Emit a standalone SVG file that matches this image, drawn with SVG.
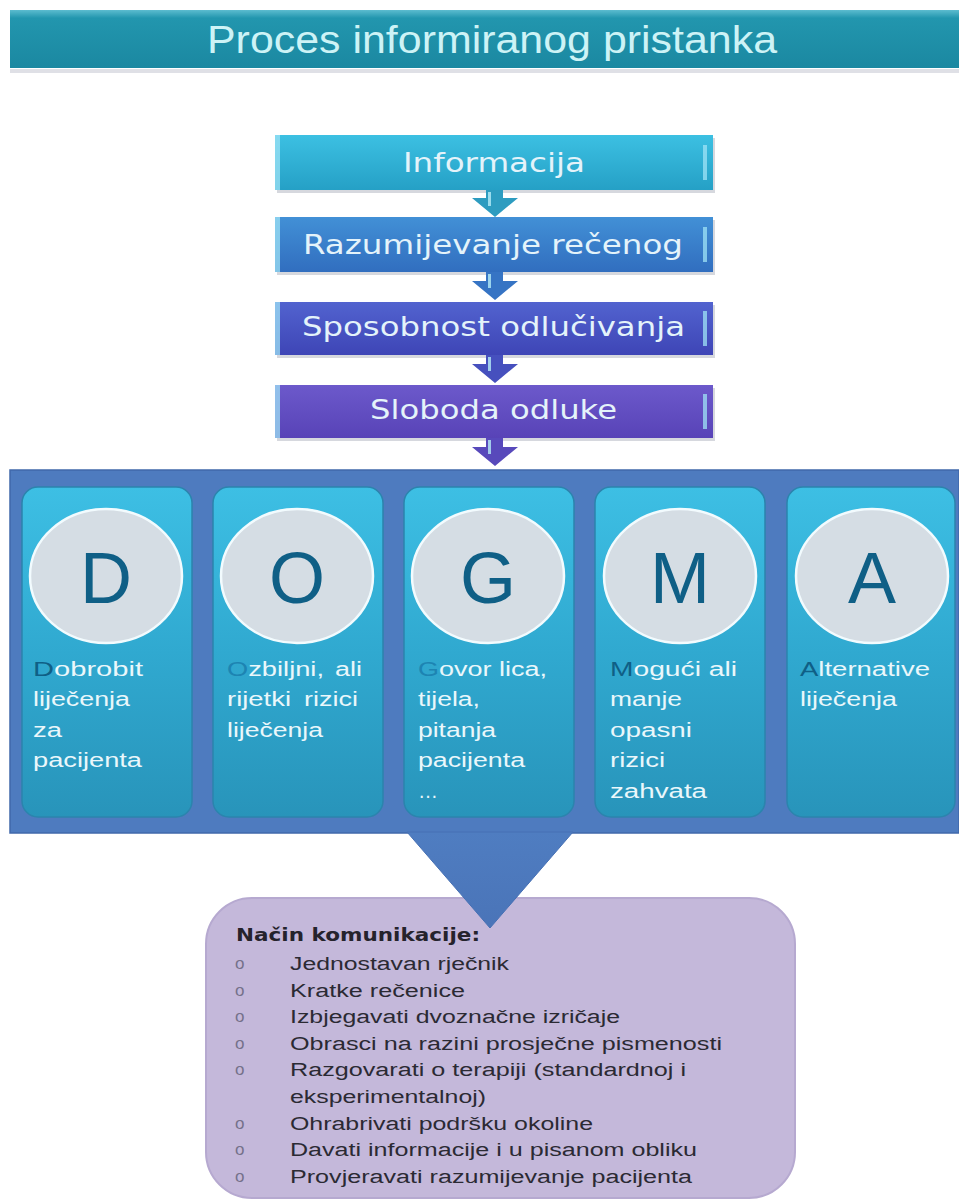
<svg xmlns="http://www.w3.org/2000/svg" width="959" height="1202" viewBox="0 0 959 1202">
<defs>
  <linearGradient id="gTitle" x1="0" y1="0" x2="0" y2="1">
    <stop offset="0" stop-color="#5cbccf"/><stop offset="0.14" stop-color="#2296ae"/><stop offset="1" stop-color="#1b88a1"/>
  </linearGradient>
  <linearGradient id="gB1" x1="0" y1="0" x2="0" y2="1"><stop offset="0" stop-color="#3cc0e2"/><stop offset="1" stop-color="#25a0c6"/></linearGradient>
  <linearGradient id="gB2" x1="0" y1="0" x2="0" y2="1"><stop offset="0" stop-color="#4290d6"/><stop offset="1" stop-color="#316ebf"/></linearGradient>
  <linearGradient id="gB3" x1="0" y1="0" x2="0" y2="1"><stop offset="0" stop-color="#5263cf"/><stop offset="1" stop-color="#3e45b6"/></linearGradient>
  <linearGradient id="gB4" x1="0" y1="0" x2="0" y2="1"><stop offset="0" stop-color="#6c59cb"/><stop offset="1" stop-color="#5843b7"/></linearGradient>
  <linearGradient id="gCard" x1="0" y1="0" x2="0" y2="1"><stop offset="0" stop-color="#3dbfe4"/><stop offset="0.5" stop-color="#30a9d0"/><stop offset="1" stop-color="#2894ba"/></linearGradient>
  <linearGradient id="gTri" x1="0" y1="0" x2="0" y2="1"><stop offset="0" stop-color="#4f7dc1"/><stop offset="1" stop-color="#4a74b8"/></linearGradient>
</defs>
<style>
  .boxtxt{font-family:"DejaVu Sans",Verdana,sans-serif;font-size:26px;fill:#e4f3fa}
  .edge{fill:#9fe3f5;opacity:0.75}
  .shadow{fill:#8a8fa0;opacity:0.35}
  .card{fill:url(#gCard);stroke:#2b84ad;stroke-width:1.5}
  .circ{fill:#d5dde4;stroke:#f2fbfe;stroke-width:2.5}
  .letter{font-family:"Liberation Sans",Arial,sans-serif;font-size:72px;fill:#0f5f86;text-anchor:middle}
  .ctxt{font-family:"Liberation Sans",Arial,sans-serif;font-size:20px;fill:#eaf7fb}
  .init{fill:#0f5f86}
  .init2{fill:#1d84b2}
  .li{font-family:"Liberation Sans",Arial,sans-serif;font-size:18px;fill:#2b2a33}
  .bul{font-family:"Liberation Sans",Arial,sans-serif;font-size:17px;fill:#75718a}
  .arr-stripe{fill:#b5ecf7;opacity:0.8}
</style>

<g id="title">
  <rect x="10" y="69" width="949" height="4" fill="#c9ccd6" opacity="0.6"/>
  <rect x="10" y="10" width="949" height="58" fill="url(#gTitle)"/>
  <text x="207" y="53" font-family="Liberation Sans, Arial, sans-serif" font-size="38" fill="#cdf3f6" textLength="570" lengthAdjust="spacingAndGlyphs">Proces informiranog pristanka</text>
</g>

<g id="box-informacija">
  <rect x="277" y="138" width="438" height="55" class="shadow"/>
  <rect x="275" y="135" width="438" height="55" fill="url(#gB1)"/>
  <rect x="275" y="135" width="5" height="55" class="edge"/>
  <rect x="703" y="145" width="4" height="35" class="edge"/>
  <text x="403" y="172" class="boxtxt" textLength="182" lengthAdjust="spacingAndGlyphs">Informacija</text>
</g>
<g id="box-razumijevanje">
  <rect x="277" y="220" width="438" height="55" class="shadow"/>
  <rect x="275" y="217" width="438" height="55" fill="url(#gB2)"/>
  <rect x="275" y="217" width="5" height="55" class="edge"/>
  <rect x="703" y="227" width="4" height="35" class="edge"/>
  <text x="303" y="254" class="boxtxt" textLength="380" lengthAdjust="spacingAndGlyphs">Razumijevanje rečenog</text>
</g>
<g id="box-sposobnost">
  <rect x="277" y="305" width="438" height="53" class="shadow"/>
  <rect x="275" y="302" width="438" height="53" fill="url(#gB3)"/>
  <rect x="275" y="302" width="5" height="53" class="edge"/>
  <rect x="703" y="311" width="4" height="35" class="edge"/>
  <text x="302" y="336" class="boxtxt" textLength="383" lengthAdjust="spacingAndGlyphs">Sposobnost odlučivanja</text>
</g>
<g id="box-sloboda">
  <rect x="277" y="388" width="438" height="53" class="shadow"/>
  <rect x="275" y="385" width="438" height="53" fill="url(#gB4)"/>
  <rect x="275" y="385" width="5" height="53" class="edge"/>
  <rect x="703" y="394" width="4" height="35" class="edge"/>
  <text x="370" y="419" class="boxtxt" textLength="247" lengthAdjust="spacingAndGlyphs">Sloboda odluke</text>
</g>

<g id="dogma-band">
  <rect x="10" y="470" width="949" height="363" fill="#4e7bbf" stroke="#4068ab" stroke-width="1.5"/>
</g>

<g id="card-d">
  <rect x="22" y="487" width="170" height="330" rx="16" class="card"/>
  <ellipse cx="106" cy="576" rx="76" ry="67" class="circ"/>
  <text x="106" y="603" class="letter">D</text>
  <text class="ctxt"><tspan x="33" y="676" textLength="110" lengthAdjust="spacingAndGlyphs"><tspan class="init">D</tspan>obrobit</tspan><tspan x="33" y="706" textLength="97" lengthAdjust="spacingAndGlyphs">liječenja</tspan><tspan x="33" y="737" textLength="29" lengthAdjust="spacingAndGlyphs">za</tspan><tspan x="33" y="767" textLength="109" lengthAdjust="spacingAndGlyphs">pacijenta</tspan></text>
</g>
<g id="card-o">
  <rect x="213" y="487" width="170" height="330" rx="16" class="card"/>
  <ellipse cx="297" cy="576" rx="76" ry="67" class="circ"/>
  <text x="297" y="603" class="letter">O</text>
  <text class="ctxt"><tspan x="227" y="676" textLength="97" lengthAdjust="spacingAndGlyphs"><tspan class="init2">O</tspan>zbiljni,</tspan><tspan x="335" y="676" textLength="27" lengthAdjust="spacingAndGlyphs">ali</tspan><tspan x="227" y="706" textLength="64" lengthAdjust="spacingAndGlyphs">rijetki</tspan><tspan x="304" y="706" textLength="54" lengthAdjust="spacingAndGlyphs">rizici</tspan><tspan x="227" y="737" textLength="96" lengthAdjust="spacingAndGlyphs">liječenja</tspan></text>
</g>
<g id="card-g">
  <rect x="404" y="487" width="170" height="330" rx="16" class="card"/>
  <ellipse cx="488" cy="576" rx="76" ry="67" class="circ"/>
  <text x="488" y="603" class="letter">G</text>
  <text class="ctxt"><tspan x="418" y="676" textLength="129" lengthAdjust="spacingAndGlyphs"><tspan class="init2">G</tspan>ovor lica,</tspan><tspan x="418" y="706" textLength="62" lengthAdjust="spacingAndGlyphs">tijela,</tspan><tspan x="418" y="737" textLength="78" lengthAdjust="spacingAndGlyphs">pitanja</tspan><tspan x="418" y="767" textLength="107" lengthAdjust="spacingAndGlyphs">pacijenta</tspan><tspan x="418" y="798">…</tspan></text>
</g>
<g id="card-m">
  <rect x="595" y="487" width="170" height="330" rx="16" class="card"/>
  <ellipse cx="680" cy="576" rx="76" ry="67" class="circ"/>
  <text x="680" y="603" class="letter">M</text>
  <text class="ctxt"><tspan x="610" y="676" textLength="127" lengthAdjust="spacingAndGlyphs"><tspan class="init">M</tspan>ogući ali</tspan><tspan x="610" y="706" textLength="72" lengthAdjust="spacingAndGlyphs">manje</tspan><tspan x="610" y="737" textLength="82" lengthAdjust="spacingAndGlyphs">opasni</tspan><tspan x="610" y="767" textLength="55" lengthAdjust="spacingAndGlyphs">rizici</tspan><tspan x="610" y="798" textLength="97" lengthAdjust="spacingAndGlyphs">zahvata</tspan></text>
</g>
<g id="card-a">
  <rect x="787" y="487" width="168" height="330" rx="16" class="card"/>
  <ellipse cx="872" cy="576" rx="76" ry="67" class="circ"/>
  <text x="872" y="603" class="letter">A</text>
  <text class="ctxt"><tspan x="800" y="676" textLength="130" lengthAdjust="spacingAndGlyphs"><tspan class="init">A</tspan>lternative</tspan><tspan x="800" y="706" textLength="97" lengthAdjust="spacingAndGlyphs">liječenja</tspan></text>
</g>

<g id="box-nacin-komunikacije">
  <rect x="206" y="898" width="589" height="300" rx="46" fill="#c4b8da" stroke="#b6a9d0" stroke-width="2"/>
  <text x="236" y="941" font-family="DejaVu Sans, Verdana, sans-serif" font-size="18" font-weight="bold" fill="#25232c" textLength="244" lengthAdjust="spacingAndGlyphs">Način komunikacije:</text>
  <g class="bul">
    <text x="235" y="969">o</text>
    <text x="235" y="996">o</text>
    <text x="235" y="1022">o</text>
    <text x="235" y="1049">o</text>
    <text x="235" y="1075">o</text>
    <text x="235" y="1129">o</text>
    <text x="235" y="1155">o</text>
    <text x="235" y="1182">o</text>
  </g>
  <g class="li">
    <text x="290" y="970" textLength="219" lengthAdjust="spacingAndGlyphs">Jednostavan rječnik</text>
    <text x="290" y="997" textLength="175" lengthAdjust="spacingAndGlyphs">Kratke rečenice</text>
    <text x="290" y="1023" textLength="330" lengthAdjust="spacingAndGlyphs">Izbjegavati dvoznačne izričaje</text>
    <text x="290" y="1050" textLength="432" lengthAdjust="spacingAndGlyphs">Obrasci na razini prosječne pismenosti</text>
    <text x="290" y="1076" textLength="396" lengthAdjust="spacingAndGlyphs">Razgovarati o terapiji (standardnoj i</text>
    <text x="290" y="1103" textLength="196" lengthAdjust="spacingAndGlyphs">eksperimentalnoj)</text>
    <text x="290" y="1130" textLength="303" lengthAdjust="spacingAndGlyphs">Ohrabrivati podršku okoline</text>
    <text x="290" y="1156" textLength="407" lengthAdjust="spacingAndGlyphs">Davati informacije i u pisanom obliku</text>
    <text x="290" y="1183" textLength="402" lengthAdjust="spacingAndGlyphs">Provjeravati razumijevanje pacijenta</text>
  </g>
</g>

<g id="connectors">
  <path d="M486 190 H503 V198 H518 L495 217 L472 198 H486 Z" fill="#2d9cc0"/>
  <rect x="488" y="192" width="3" height="14" class="arr-stripe"/>
  <path d="M486 272 H503 V281 H518 L495 300 L472 281 H486 Z" fill="#3674c4"/>
  <rect x="488" y="274" width="3" height="14" class="arr-stripe"/>
  <path d="M486 355 H503 V364 H518 L495 383 L472 364 H486 Z" fill="#4650be"/>
  <rect x="488" y="357" width="3" height="14" class="arr-stripe"/>
  <path d="M486 438 H503 V447 H518 L495 466 L472 447 H486 Z" fill="#5849bb"/>
  <rect x="488" y="440" width="3" height="14" class="arr-stripe"/>
  <path d="M407 832 H573 L490 928 Z" fill="url(#gTri)" stroke="#4670b4" stroke-width="1"/>
</g>
</svg>
